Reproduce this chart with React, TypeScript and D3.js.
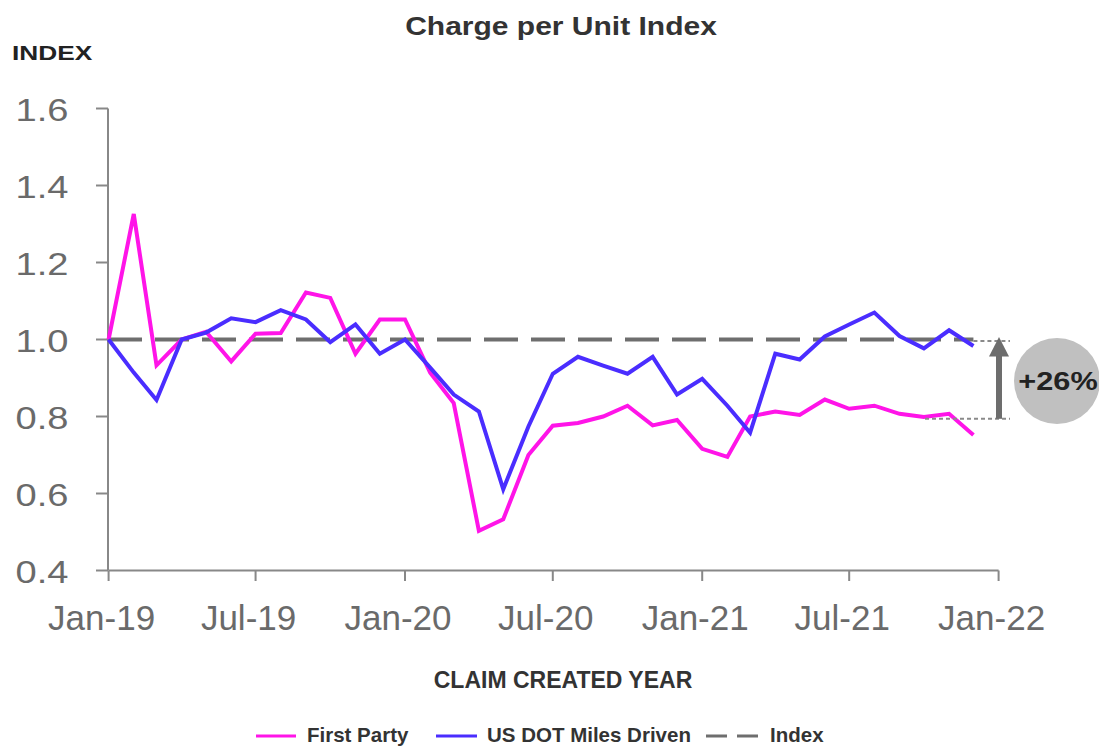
import React from "react";
import * as d3 from "d3";

const months: string[] = [
  "2019-01","2019-02","2019-03","2019-04","2019-05","2019-06","2019-07","2019-08","2019-09","2019-10","2019-11","2019-12",
  "2020-01","2020-02","2020-03","2020-04","2020-05","2020-06","2020-07","2020-08","2020-09","2020-10","2020-11","2020-12",
  "2021-01","2021-02","2021-03","2021-04","2021-05","2021-06","2021-07","2021-08","2021-09","2021-10","2021-11","2021-12",
];

const firstParty: number[] = [
  1.0, 1.326, 0.933, 1.0, 1.02, 0.943, 1.015, 1.017, 1.122, 1.108, 0.963, 1.052,
  1.052, 0.914, 0.835, 0.503, 0.533, 0.70, 0.776, 0.783, 0.80, 0.828, 0.777, 0.791,
  0.716, 0.695, 0.80, 0.813, 0.804, 0.844, 0.82, 0.828, 0.807, 0.799, 0.807, 0.752,
];

const usDotMiles: number[] = [
  1.0, 0.914, 0.843, 1.0, 1.018, 1.055, 1.045, 1.076, 1.052, 0.993, 1.039, 0.963,
  1.0, 0.927, 0.857, 0.813, 0.611, 0.774, 0.911, 0.955, 0.932, 0.911, 0.955, 0.857,
  0.898, 0.828, 0.758, 0.963, 0.948, 1.008, 1.039, 1.07, 1.009, 0.977, 1.024, 0.983,
];

const yTicks: number[] = [0.4, 0.6, 0.8, 1.0, 1.2, 1.4, 1.6];
const xTickDates: string[] = ["2019-01", "2019-07", "2020-01", "2020-07", "2021-01", "2021-07", "2022-01"];
const xTickLabels: string[] = ["Jan-19", "Jul-19", "Jan-20", "Jul-20", "Jan-21", "Jul-21", "Jan-22"];

const indexValue = 1.0;
const annotationLow = 0.794;
const annotationLabel = "+26%";

const FONT = "'Liberation Sans', Arial, Helvetica, sans-serif";

export default function App() {
  const parse = d3.timeParse("%Y-%m");
  const x = d3
    .scaleTime()
    .domain([parse("2019-01") as Date, parse("2022-01") as Date])
    .range([108.6, 998.6]);
  const y = d3.scaleLinear().domain([0.4, 1.6]).range([570.5, 108.5]);

  const dates = months.map((m) => parse(m) as Date);
  const line = d3
    .line<number>()
    .x((_, i) => x(dates[i]))
    .y((d) => y(d));

  const xEnd = x(dates[dates.length - 1]);
  const arrowX = 999;
  const yHigh = y(indexValue);
  const yLow = y(annotationLow);
  const grayText = "#6a6a6a";

  return (
    <svg
      width={1099}
      height={747}
      style={{ position: "absolute", left: 0, top: 0, background: "#fff" }}
      fontFamily={FONT}
    >
      <rect width={1099} height={747} fill="#fff" />
      {/* Title */}
      <text
        transform="translate(561,35) scale(1.2,1)"
        textAnchor="middle"
        fontSize={25}
        fontWeight="bold"
        fill="#333"
      >
        Charge per Unit Index
      </text>
      <text transform="translate(12,60) scale(1.25,1)" fontSize={21} fontWeight="bold" fill="#222">
        INDEX
      </text>

      {/* Y axis */}
      <line x1={108} x2={108} y1={y(1.6)} y2={y(0.4)} stroke="#888" strokeWidth={2} />
      {yTicks.map((t) => (
        <g key={t}>
          <line x1={96} x2={108} y1={y(t)} y2={y(t)} stroke="#888" strokeWidth={2} />
          <text
            transform={`translate(68.5,${y(t) + 12}) scale(1.19,1)`}
            textAnchor="end"
            fontSize={32}
            fill={grayText}
          >
            {t.toFixed(1)}
          </text>
        </g>
      ))}

      {/* X axis */}
      <line x1={x(parse("2019-01") as Date)} x2={x(parse("2022-01") as Date)} y1={570.5} y2={570.5} stroke="#888" strokeWidth={2} />
      {xTickDates.map((d, i) => {
        const xx = x(parse(d) as Date);
        return (
          <g key={d}>
            <line x1={xx} x2={xx} y1={570.5} y2={581} stroke="#888" strokeWidth={2} />
            <text x={xx - 7} y={630} textAnchor="middle" fontSize={35} fill={grayText}>
              {xTickLabels[i]}
            </text>
          </g>
        );
      })}
      <text x={563} y={688} textAnchor="middle" fontSize={23} fontWeight="bold" fill="#333">
        CLAIM CREATED YEAR
      </text>

      {/* Index dashed line */}
      <line
        x1={108}
        x2={xEnd}
        y1={yHigh}
        y2={yHigh}
        stroke="#6e6e6e"
        strokeWidth={4}
        strokeDasharray="34 13"
      />

      {/* Series */}
      <path d={line(firstParty) || ""} fill="none" stroke="#ff14e8" strokeWidth={4} strokeLinejoin="miter" />
      <path d={line(usDotMiles) || ""} fill="none" stroke="#4a2dff" strokeWidth={4} strokeLinejoin="miter" />

      {/* Annotation */}
      <line x1={xEnd} x2={1010} y1={yHigh + 1.5} y2={yHigh + 1.5} stroke="#8a8a8a" strokeWidth={2} strokeDasharray="4 3" />
      <line x1={925} x2={1010} y1={yLow} y2={yLow} stroke="#8a8a8a" strokeWidth={2} strokeDasharray="4 3" />
      <line x1={arrowX} x2={arrowX} y1={yLow} y2={yHigh + 16} stroke="#6d6d6d" strokeWidth={6} />
      <path
        d={`M${arrowX - 10},${yHigh + 17} L${arrowX},${yHigh - 2.5} L${arrowX + 10},${yHigh + 17} Z`}
        fill="#6d6d6d"
      />
      <circle cx={1057} cy={381} r={43} fill="#c0c0c0" />
      <text
        transform="translate(1058,390) scale(1.18,1)"
        textAnchor="middle"
        fontSize={26}
        fontWeight="bold"
        fill="#222"
      >
        {annotationLabel}
      </text>

      {/* Legend */}
      <line x1={256} x2={296} y1={736} y2={736} stroke="#ff14e8" strokeWidth={3} />
      <text x={307} y={742} fontSize={20.5} fontWeight="bold" fill="#333">First Party</text>
      <line x1={436} x2={477} y1={736} y2={736} stroke="#4a2dff" strokeWidth={3} />
      <text x={487} y={742} fontSize={20.5} fontWeight="bold" fill="#333">US DOT Miles Driven</text>
      <line x1={706} x2={758} y1={736} y2={736} stroke="#6e6e6e" strokeWidth={3} strokeDasharray="21 10" />
      <text x={770} y={742} fontSize={20.5} fontWeight="bold" fill="#333">Index</text>
    </svg>
  );
}
